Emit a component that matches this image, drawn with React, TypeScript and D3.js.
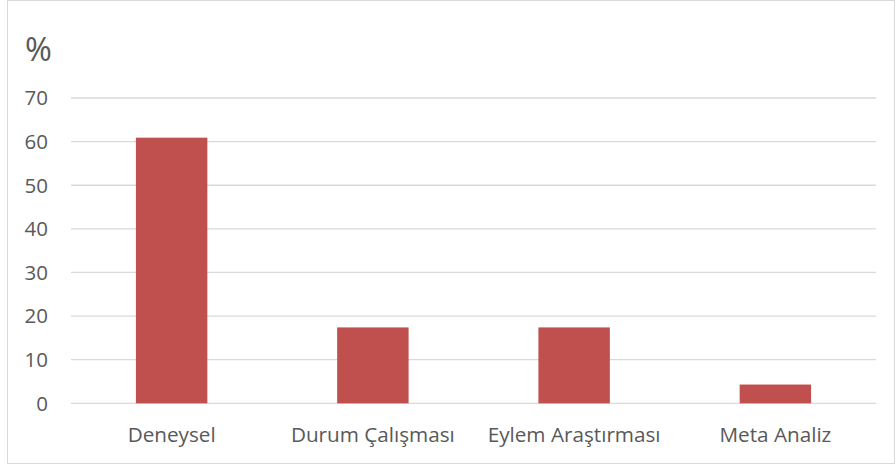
import React from "react";
import * as d3 from "d3";

const categories = ["Deneysel", "Durum Çalışması", "Eylem Araştırması", "Meta Analiz"];
const values = [60.9, 17.4, 17.4, 4.3];
const yTicks = [0, 10, 20, 30, 40, 50, 60, 70];
const yAxisTitle = "%";

const W = 896;
const H = 468;
const FONT = "'Open Sans', 'Liberation Sans', sans-serif";

export default function App() {
  const left = 71, right = 876, top = 98, bottom = 403.3;
  const x = d3.scaleBand<string>().domain(categories).range([left, right]).paddingInner(0.645).paddingOuter(0.3225);
  const y = d3.scaleLinear().domain([0, 70]).range([bottom, top]);
  return (
    <svg width={W} height={H} style={{ position: "absolute", left: 0, top: 0 }} fontFamily={FONT}>
      <rect x={7.5} y={0.5} width={887} height={463} fill="#fff" stroke="#D9D9D9" />
      {yTicks.map((t) => (
        <g key={t}>
          <line x1={left} x2={right} y1={y(t)} y2={y(t)} stroke="#D9D9D9" strokeWidth={1.3} />
          <text x={48} y={y(t)} dy="0.36em" textAnchor="end" fontSize={20.5} fill="#595959">{t}</text>
        </g>
      ))}
      {categories.map((c, i) => (
        <rect key={c} x={x(c)} y={y(values[i])} width={x.bandwidth()} height={y(0) - y(values[i])} fill="#C0504D" />
      ))}
      {categories.map((c) => (
        <text key={c} x={(x(c) as number) + x.bandwidth() / 2} y={435} dy="0.36em" textAnchor="middle" fontSize={20.7} fill="#595959">{c}</text>
      ))}
      <text x={25} y={49} dy="0.36em" fontSize={32.5} fill="#595959">{yAxisTitle}</text>
    </svg>
  );
}
